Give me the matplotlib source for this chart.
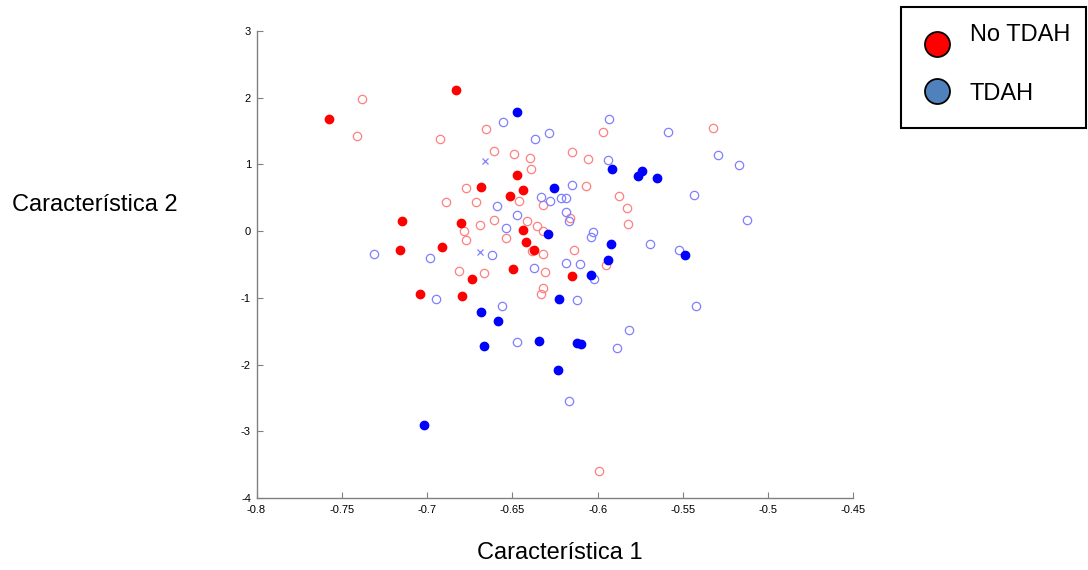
import matplotlib
matplotlib.use("Agg")
import matplotlib.pyplot as plt
from matplotlib.lines import Line2D
from matplotlib.patches import Rectangle

plt.rcParams['font.family'] = ['Liberation Sans', 'DejaVu Sans']
plt.rcParams['axes.unicode_minus'] = False

# No TDAH, filled points
red_fill_x = [-0.7575, -0.683, -0.6474, -0.6682, -0.644, -0.6512, -0.7147, -0.6799, -0.644,
              -0.6418, -0.6373, -0.7159, -0.6913, -0.6496, -0.6738, -0.7041, -0.6795, -0.6149]
red_fill_y = [1.675, 2.11, 0.845, 0.655, 0.62, 0.52, 0.15, 0.125, 0.02,
              -0.17, -0.28, -0.28, -0.24, -0.565, -0.715, -0.945, -0.97, -0.67]

# No TDAH, open points
red_open_x = [-0.738, -0.741, -0.6656, -0.6926, -0.6606, -0.649, -0.6398, -0.6391, -0.677, -0.6463,
              -0.6322, -0.6887, -0.6711, -0.6688, -0.6606, -0.6412, -0.6357, -0.6322, -0.6785, -0.6774,
              -0.6537, -0.6385, -0.6322, -0.6811, -0.6664, -0.6307, -0.6322, -0.6334, -0.5953, -0.5994,
              -0.597, -0.5325, -0.615, -0.6057, -0.6068, -0.5877, -0.5828, -0.582, -0.6162, -0.614]
red_open_y = [1.98, 1.42, 1.525, 1.38, 1.2, 1.16, 1.095, 0.925, 0.645, 0.455,
              0.385, 0.43, 0.43, 0.085, 0.165, 0.145, 0.07, 0.0, 0.005, -0.135,
              -0.105, -0.3, -0.345, -0.6, -0.625, -0.605, -0.855, -0.94, -0.51, -3.6,
              1.485, 1.55, 1.19, 1.075, 0.68, 0.525, 0.345, 0.105, 0.19, -0.29]

# TDAH, filled points
blue_fill_x = [-0.6473, -0.6293, -0.6686, -0.6582, -0.6668, -0.6346, -0.7016, -0.5937, -0.5486, -0.6039,
               -0.6225, -0.6123, -0.6099, -0.6232, -0.5918, -0.5765, -0.5738, -0.5652, -0.6256, -0.5923]
blue_fill_y = [1.79, -0.045, -1.21, -1.345, -1.725, -1.64, -2.9, -0.43, -0.36, -0.66,
               -1.02, -1.67, -1.685, -2.075, 0.935, 0.82, 0.9, 0.795, 0.64, -0.195]

# TDAH, open points
blue_open_x = [-0.6553, -0.6369, -0.6285, -0.633, -0.6588, -0.6471, -0.6537, -0.7313, -0.6981, -0.6618,
               -0.6373, -0.6949, -0.6559, -0.6471, -0.5521, -0.6187, -0.6105, -0.602, -0.6119, -0.5818,
               -0.5885, -0.5422, -0.6168, -0.5933, -0.5587, -0.5293, -0.5173, -0.5941, -0.5437, -0.6152,
               -0.6278, -0.6215, -0.6187, -0.6185, -0.6169, -0.5124, -0.6028, -0.6039, -0.5695]
blue_open_y = [1.64, 1.375, 1.47, 0.51, 0.38, 0.24, 0.05, -0.345, -0.41, -0.365,
               -0.555, -1.02, -1.115, -1.66, -0.29, -0.485, -0.49, -0.715, -1.03, -1.48,
               -1.755, -1.125, -2.54, 1.68, 1.485, 1.135, 0.985, 1.07, 0.545, 0.69,
               0.445, 0.5, 0.5, 0.28, 0.145, 0.16, -0.015, -0.085, -0.195]

# TDAH, cross markers
blue_cross_x = [-0.6659, -0.669]
blue_cross_y = [1.055, -0.31]

x_ticks = [-0.8, -0.75, -0.7, -0.65, -0.6, -0.55, -0.5, -0.45]
x_tick_labels = ['-0.8', '-0.75', '-0.7', '-0.65', '-0.6', '-0.55', '-0.5', '-0.45']
y_ticks = [-4, -3, -2, -1, 0, 1, 2, 3]

legend_labels = ['No TDAH', 'TDAH']
legend_colors = ['#ff0000', '#4f81bd']

W, H = 1088, 570
fig = plt.figure(figsize=(W / 100, H / 100), dpi=100)
ax = fig.add_axes([256.5 / W, 1 - 498 / H, 597 / W, 467 / H])

ax.plot(red_open_x, red_open_y, 'o', ms=6, mfc='none', mec='#ff8080', mew=0.9, ls='none')
ax.plot(blue_open_x, blue_open_y, 'o', ms=6, mfc='none', mec='#8080ff', mew=0.9, ls='none')
ax.plot(blue_cross_x, blue_cross_y, 'x', ms=4.5, color='#8080ff', mew=0.9, ls='none')
ax.plot(red_fill_x, red_fill_y, 'o', ms=6, color='#ff0000', ls='none')
ax.plot(blue_fill_x, blue_fill_y, 'o', ms=6, color='#0000ff', ls='none')

ax.set_xlim(-0.8, -0.45)
ax.set_ylim(-4, 3)
ax.set_xticks(x_ticks)
ax.set_xticklabels(x_tick_labels)
ax.set_yticks(y_ticks)
ax.tick_params(direction='in', length=4, width=0.8, color='#808080', labelsize=8)
ax.tick_params(axis='x', pad=5)
ax.tick_params(axis='y', pad=4)
for side in ['top', 'right']:
    ax.spines[side].set_visible(False)
for side in ['left', 'bottom']:
    ax.spines[side].set_color('#808080')
    ax.spines[side].set_linewidth(1.0)

fig.text(560 / W, 1 - 553 / H, 'Característica 1', ha='center', va='center', fontsize=17)
fig.text(95 / W, 1 - 205 / H, 'Característica 2', ha='center', va='center', fontsize=17)

# legend box drawn in figure pixels
fig.add_artist(Rectangle((901 / W, 1 - 128 / H), 185 / W, 121 / H, transform=fig.transFigure,
                         facecolor='white', edgecolor='black', linewidth=1.5))
marker_rows = [44, 91]
text_rows = [40.7, 100]
for label, color, my, ty in zip(legend_labels, legend_colors, marker_rows, text_rows):
    fig.add_artist(Line2D([937 / W], [1 - my / H], transform=fig.transFigure, ls='none',
                          marker='o', ms=18, mfc=color, mec='black', mew=1.3))
    fig.text(970 / W, 1 - ty / H, label, ha='left', va='baseline', fontsize=17)

fig.savefig('out.png', dpi=100)
